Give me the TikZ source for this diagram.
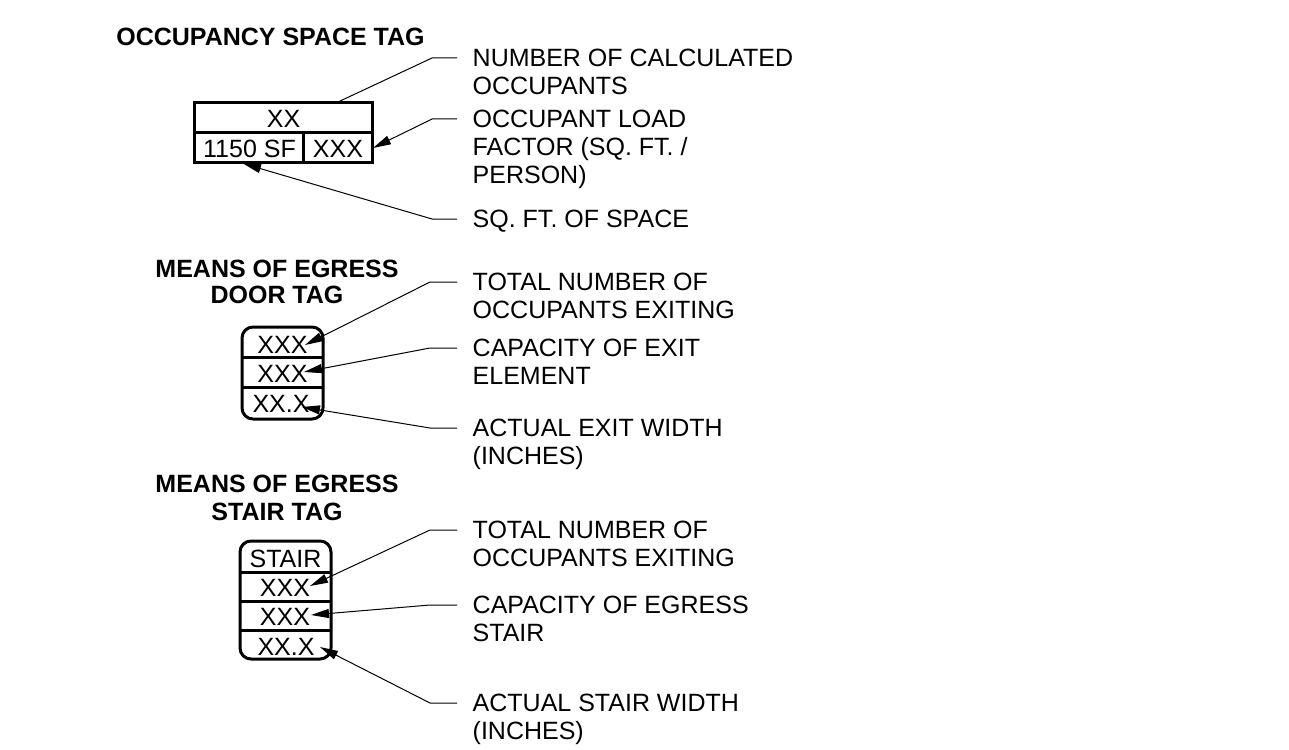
\documentclass[tikz,border=0pt]{standalone}
\usepackage{fontspec}
\setmainfont{Liberation Sans}
\usetikzlibrary{arrows.meta}
\begin{document}
\begin{tikzpicture}[x=1pt,y=-1pt,
  lbl/.style={font=\fontsize{25}{28}\selectfont, align=left, anchor=north west, inner sep=0pt},
  ttl/.style={font=\fontsize{25}{26}\selectfont\bfseries, align=center, anchor=north, inner sep=0pt},
  ttlb/.style={font=\fontsize{25}{28.5}\selectfont\bfseries, align=center, anchor=north, inner sep=0pt},
  cell/.style={font=\fontsize{25}{28}\selectfont, anchor=base, inner sep=0pt},
  tagbox/.style={line width=3pt},
  leader/.style={line width=1pt},
  arr/.style={-{Triangle[length=18pt,width=9pt]}}]
\useasboundingbox (0,0) rectangle (1289,749);

% ---------- Occupancy space tag ----------
\node[ttl] (t1) at (270.5,28) {OCCUPANCY SPACE TAG};
\draw[tagbox] (194,102.5) rectangle (372.5,162);
\draw[tagbox] (194,132.5) -- (372.5,132.5);
\draw[tagbox] (303.5,132.5) -- (303.5,162);
\node[cell] (oxx) at (283.5,127.5) {XX};
\node[cell] (osf) at (249.5,157.5) {1150 SF};
\node[cell] (olf) at (338,157.5) {XXX};

\node[lbl] (l1) at (472.5,49) {NUMBER OF CALCULATED\\OCCUPANTS};
\node[lbl] (l2) at (472.5,110) {OCCUPANT LOAD\\FACTOR (SQ. FT. /\\PERSON)};
\node[lbl] (l3) at (472.5,210) {SQ. FT. OF SPACE};

\coordinate (h1) at (457,58);  \coordinate (e1) at (432,58);  \coordinate (p1) at (338,102);
\coordinate (h2) at (457,119); \coordinate (e2) at (432,119); \coordinate (p2) at (373,148);
\coordinate (h3) at (457,219); \coordinate (e3) at (432,219); \coordinate (p3) at (243,163.5);
\draw[leader] (h1) -- (e1) -- (p1);
\draw[leader,arr] (h2) -- (e2) -- (p2);
\draw[leader,arr] (h3) -- (e3) -- (p3);

% ---------- Means of egress door tag ----------
\node[ttl] (t2) at (277,260) {MEANS OF EGRESS\\DOOR TAG};
\draw[tagbox, rounded corners=11pt] (242,327) rectangle (323,419);
\draw[tagbox] (242,357) -- (323,357);
\draw[tagbox] (242,387) -- (323,387);
\node[cell] (d1) at (282.5,353) {XXX};
\node[cell] (d2) at (282.5,382) {XXX};
\node[cell] (d3) at (281,412) {XX.X};

\node[lbl] (l4) at (472.5,273) {TOTAL NUMBER OF\\OCCUPANTS EXITING};
\node[lbl] (l5) at (472.5,339) {CAPACITY OF EXIT\\ELEMENT};
\node[lbl] (l6) at (472.5,419) {ACTUAL EXIT WIDTH\\(INCHES)};

\coordinate (h4) at (457,282); \coordinate (e4) at (430,282); \coordinate (p4) at (305,345);
\coordinate (h5) at (457,348); \coordinate (e5) at (430,348); \coordinate (p5) at (304,372);
\coordinate (h6) at (457,428); \coordinate (e6) at (430,428); \coordinate (p6) at (302,407);
\draw[leader,arr] (h4) -- (e4) -- (p4);
\draw[leader,arr] (h5) -- (e5) -- (p5);
\draw[leader,arr] (h6) -- (e6) -- (p6);

% ---------- Means of egress stair tag ----------
\node[ttlb] (t3) at (277,474.5) {MEANS OF EGRESS\\STAIR TAG};
\draw[tagbox, rounded corners=11pt] (240,541) rectangle (331,659);
\draw[tagbox] (240,572) -- (331,572);
\draw[tagbox] (240,601) -- (331,601);
\draw[tagbox] (240,630) -- (331,630);
\node[cell] (s0) at (285.5,567.5) {STAIR};
\node[cell] (s1) at (285,596.5) {XXX};
\node[cell] (s2) at (285,625.5) {XXX};
\node[cell] (s3) at (286,655) {XX.X};

\node[lbl] (l7) at (472.5,521) {TOTAL NUMBER OF\\OCCUPANTS EXITING};
\node[lbl] (l8) at (472.5,596) {CAPACITY OF EGRESS\\STAIR};
\node[lbl] (l9) at (472.5,694) {ACTUAL STAIR WIDTH\\(INCHES)};

\coordinate (h7) at (457,530); \coordinate (e7) at (430,530); \coordinate (p7) at (310,586);
\coordinate (h8) at (457,605); \coordinate (e8) at (430,605); \coordinate (p8) at (311,615);
\coordinate (h9) at (457,703); \coordinate (e9) at (430,703); \coordinate (p9) at (320,647);
\draw[leader,arr] (h7) -- (e7) -- (p7);
\draw[leader,arr] (h8) -- (e8) -- (p8);
\draw[leader,arr] (h9) -- (e9) -- (p9);
\end{tikzpicture}
\end{document}
